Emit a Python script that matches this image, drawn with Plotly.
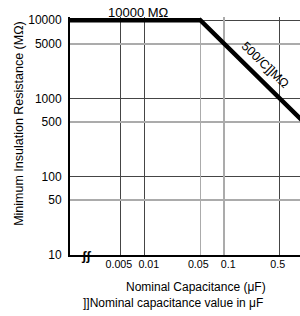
import plotly.graph_objects as go

# ---- data ----
cap_uF = [0.001, 0.05, 1.0]          # nominal capacitance (µF)
res_MOhm = [10000, 10000, 500]       # minimum insulation resistance (MΩ)

x_labels_a = [0.005, 0.05, 0.5]
x_text_a = ["0.005", "0.05", "0.5"]
x_labels_b = [0.01, 0.1]
x_text_b = ["0.01", "0.1"]
x_grid_dark = [0.005, 0.01, 0.5]
x_grid_light = [0.05, 0.1]

y_tick_vals = [10, 50, 100, 500, 1000, 5000, 10000]
y_tick_text = ["10", "50", "100", "500", "1000", "5000", "10000"]
y_grid_dark = [10, 100, 1000, 10000]
y_grid_light = [50, 500, 5000]

FONT = "Liberation Sans, Arial, Helvetica, sans-serif"
XR = [-2.9413, -0.0464]
YR = [1, 4.04]
DARK = "#454545"
LIGHT = "#ababab"

fig = go.Figure()
# invisible traces so that the overlay axes are drawn
for xa, ya in (("x2", "y2"), ("x3", "y3"), ("x4", "y")):
    fig.add_trace(go.Scatter(
        x=cap_uF, y=res_MOhm, xaxis=xa, yaxis=ya, mode="markers",
        marker=dict(opacity=0, size=1), hoverinfo="skip", showlegend=False,
    ))
fig.add_trace(go.Scatter(
    x=cap_uF, y=res_MOhm, mode="lines",
    line=dict(color="black", width=4.5),
    hoverinfo="skip", showlegend=False,
))

common_x = dict(type="log", range=XR, zeroline=False, ticks="", automargin=False)
common_y = dict(type="log", range=YR, zeroline=False, ticks="", automargin=False)
xlab = dict(tickfont=dict(size=10.7), tickangle=0, ticklabelstandoff=-2,
            showline=True, linecolor="black", linewidth=2)

fig.update_layout(
    width=300, height=316,
    margin=dict(l=70, r=0, t=17, b=61),
    paper_bgcolor="white", plot_bgcolor="white",
    font=dict(family=FONT, color="black", size=12),
    showlegend=False,
    xaxis=dict(**common_x, **xlab, tickvals=x_labels_a, ticktext=x_text_a,
               ticklabelshift=-2, showgrid=False),
    xaxis4=dict(**common_x, **xlab, overlaying="x", anchor="y", side="bottom",
                tickvals=x_labels_b, ticktext=x_text_b, ticklabelshift=4,
                showgrid=False),
    xaxis2=dict(**common_x, overlaying="x", anchor="y2", tickvals=x_grid_dark,
                showticklabels=False, showline=False, showgrid=True,
                gridcolor=DARK, gridwidth=1),
    xaxis3=dict(**common_x, overlaying="x", anchor="y3", tickvals=x_grid_light,
                showticklabels=False, showline=False, showgrid=True,
                gridcolor=LIGHT, gridwidth=1.6),
    yaxis=dict(**common_y, tickvals=y_tick_vals, ticktext=y_tick_text,
               showgrid=False, showline=True, linecolor="black", linewidth=2,
               tickfont=dict(size=12), ticklabelstandoff=4),
    yaxis2=dict(**common_y, overlaying="y", anchor="x2", tickvals=y_grid_dark,
                showticklabels=False, showline=False, showgrid=True,
                gridcolor=DARK, gridwidth=1),
    yaxis3=dict(**common_y, overlaying="y", anchor="x3", tickvals=y_grid_light,
                showticklabels=False, showline=False, showgrid=True,
                gridcolor=LIGHT, gridwidth=1.6),
)

ann = [
    dict(text="10000 MΩ", x=0.296, y=1.021, xref="paper", yref="paper",
         xanchor="center", yanchor="middle", showarrow=False, font=dict(size=13)),
    dict(text="500/C]]MΩ", x=0.848, y=0.798, xref="paper", yref="paper",
         xanchor="center", yanchor="middle", showarrow=False, textangle=44,
         font=dict(size=12.5)),
    dict(text="Minimum Insulation Resistance (MΩ)", x=-0.222, y=0.555,
         xref="paper", yref="paper", xanchor="center", yanchor="middle",
         showarrow=False, textangle=-90, font=dict(size=12.5)),
    dict(text="Nominal Capacitance (μF)", x=(195.5 - 70) / 230, y=(255 - 287) / 238,
         xref="paper", yref="paper", xanchor="center", yanchor="middle",
         showarrow=False, font=dict(size=12)),
    dict(text="]]Nominal capacitance value in μF", x=(173 - 70) / 230, y=(255 - 303) / 238,
         xref="paper", yref="paper", xanchor="center", yanchor="middle",
         showarrow=False, font=dict(size=12)),
    dict(text="<b>ʃʃ</b>", x=(86 - 70) / 230, y=0.0, xref="paper", yref="paper",
         xanchor="center", yanchor="middle", showarrow=False,
         font=dict(size=13)),
]
fig.update_layout(annotations=ann)

fig.write_html(
    "out.html",
    config={"displayModeBar": False, "staticPlot": True},
    post_script="document.body.style.margin='0';document.body.style.overflow='hidden';",
)
